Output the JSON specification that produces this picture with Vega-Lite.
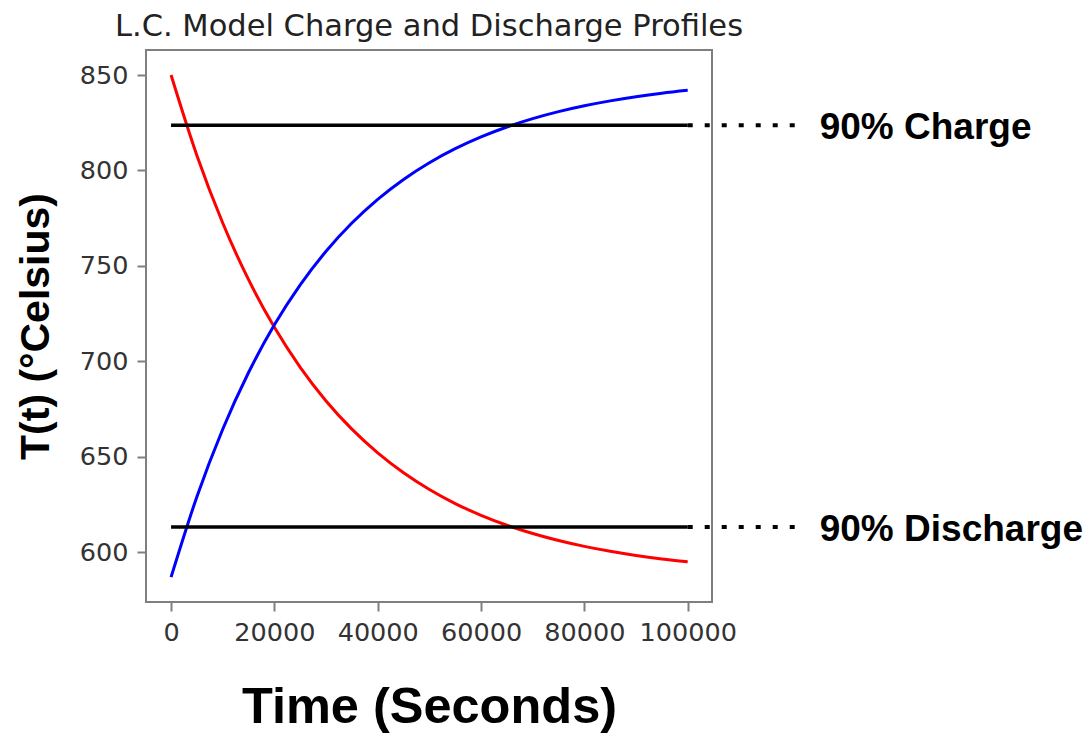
{
  "$schema": "https://vega.github.io/schema/vega-lite/v6.json",
  "width": 566,
  "height": 552,
  "autosize": {"type": "none"},
  "padding": {"left": 146, "top": 50, "right": 379, "bottom": 136},
  "background": "white",
  "title": {
    "text": "L.C. Model Charge and Discharge Profiles",
    "font": "DejaVu Sans",
    "fontSize": 30.5,
    "fontWeight": "normal",
    "color": "#222222",
    "anchor": "middle",
    "offset": 8
  },
  "config": {
    "view": {"stroke": "#7f7f7f", "strokeWidth": 2},
    "axis": {
      "domain": false,
      "grid": false,
      "ticks": true,
      "tickColor": "#7f7f7f",
      "tickWidth": 2,
      "tickSize": 9,
      "labelFont": "DejaVu Sans",
      "labelFontSize": 25.5,
      "labelColor": "#333333",
      "labelPadding": 9,
      "titleFont": "Liberation Sans",
      "titleFontWeight": "bold",
      "titleColor": "#000000"
    }
  },
  "datasets": {
    "curves": [
      {"t": 0, "T": 850.0, "series": "Discharge"},
      {"t": 5000, "T": 807.88, "series": "Discharge"},
      {"t": 10000, "T": 772.51, "series": "Discharge"},
      {"t": 15000, "T": 742.8, "series": "Discharge"},
      {"t": 20000, "T": 717.85, "series": "Discharge"},
      {"t": 25000, "T": 696.9, "series": "Discharge"},
      {"t": 30000, "T": 679.3, "series": "Discharge"},
      {"t": 35000, "T": 664.52, "series": "Discharge"},
      {"t": 40000, "T": 652.1, "series": "Discharge"},
      {"t": 45000, "T": 641.68, "series": "Discharge"},
      {"t": 50000, "T": 632.92, "series": "Discharge"},
      {"t": 55000, "T": 625.57, "series": "Discharge"},
      {"t": 60000, "T": 619.39, "series": "Discharge"},
      {"t": 65000, "T": 614.21, "series": "Discharge"},
      {"t": 70000, "T": 609.85, "series": "Discharge"},
      {"t": 75000, "T": 606.19, "series": "Discharge"},
      {"t": 80000, "T": 603.12, "series": "Discharge"},
      {"t": 85000, "T": 600.54, "series": "Discharge"},
      {"t": 90000, "T": 598.37, "series": "Discharge"},
      {"t": 95000, "T": 596.55, "series": "Discharge"},
      {"t": 100000, "T": 595.02, "series": "Discharge"},
      {"t": 0, "T": 587.0, "series": "Charge"},
      {"t": 5000, "T": 629.12, "series": "Charge"},
      {"t": 10000, "T": 664.49, "series": "Charge"},
      {"t": 15000, "T": 694.2, "series": "Charge"},
      {"t": 20000, "T": 719.15, "series": "Charge"},
      {"t": 25000, "T": 740.1, "series": "Charge"},
      {"t": 30000, "T": 757.7, "series": "Charge"},
      {"t": 35000, "T": 772.48, "series": "Charge"},
      {"t": 40000, "T": 784.9, "series": "Charge"},
      {"t": 45000, "T": 795.32, "series": "Charge"},
      {"t": 50000, "T": 804.08, "series": "Charge"},
      {"t": 55000, "T": 811.43, "series": "Charge"},
      {"t": 60000, "T": 817.61, "series": "Charge"},
      {"t": 65000, "T": 822.79, "series": "Charge"},
      {"t": 70000, "T": 827.15, "series": "Charge"},
      {"t": 75000, "T": 830.81, "series": "Charge"},
      {"t": 80000, "T": 833.88, "series": "Charge"},
      {"t": 85000, "T": 836.46, "series": "Charge"},
      {"t": 90000, "T": 838.63, "series": "Charge"},
      {"t": 95000, "T": 840.45, "series": "Charge"},
      {"t": 100000, "T": 841.98, "series": "Charge"}
    ],
    "levels": [
      {"T": 823.7, "label": "90% Charge"},
      {"T": 613.3, "label": "90% Discharge"}
    ]
  },
  "encoding": {
    "y": {
      "field": "T",
      "type": "quantitative",
      "scale": {"domain": [574, 863.1], "nice": false, "zero": false},
      "axis": {
        "values": [600, 650, 700, 750, 800, 850],
        "title": "T(t) (°Celsius)",
        "titleFontSize": 41,
        "titlePadding": 22
      }
    }
  },
  "layer": [
    {
      "data": {"name": "curves"},
      "mark": {"type": "line", "strokeWidth": 3, "interpolate": "monotone"},
      "encoding": {
        "x": {
          "field": "t",
          "type": "quantitative",
          "scale": {"domain": [-4850, 104700], "nice": false, "zero": false},
          "axis": {
            "values": [0, 20000, 40000, 60000, 80000, 100000],
            "format": "d",
            "title": "Time (Seconds)",
            "titleFontSize": 50.5,
            "titlePadding": 37
          }
        },
        "color": {
          "field": "series",
          "type": "nominal",
          "scale": {"domain": ["Discharge", "Charge"], "range": ["#ff0000", "#0000ff"]},
          "legend": null
        }
      }
    },
    {
      "data": {"name": "levels"},
      "mark": {"type": "rule", "color": "#000000", "strokeWidth": 3.5},
      "encoding": {
        "x": {"datum": 0, "type": "quantitative"},
        "x2": {"datum": 100000}
      }
    },
    {
      "data": {"name": "levels"},
      "mark": {"type": "rule", "color": "#000000", "strokeWidth": 4, "strokeDash": [5, 12], "clip": false},
      "encoding": {
        "x": {"datum": 100000, "type": "quantitative"},
        "x2": {"datum": 122500}
      }
    },
    {
      "data": {"name": "levels"},
      "mark": {
        "type": "text",
        "align": "left",
        "baseline": "alphabetic",
        "dx": 132,
        "dy": 14,
        "font": "Liberation Sans",
        "fontWeight": "bold",
        "fontSize": 37,
        "color": "#000000",
        "clip": false
      },
      "encoding": {
        "x": {"datum": 100000, "type": "quantitative"},
        "text": {"field": "label"}
      }
    }
  ]
}
